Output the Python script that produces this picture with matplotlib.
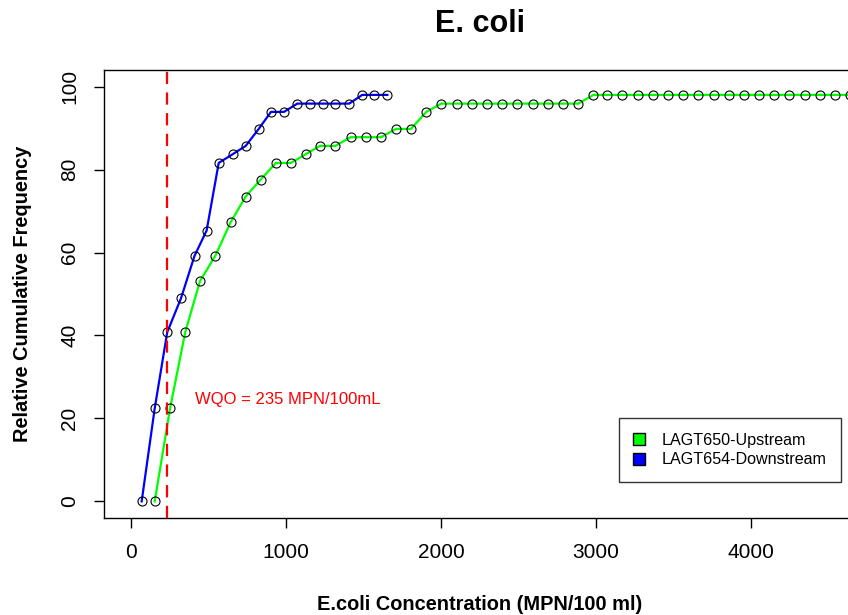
import matplotlib
matplotlib.use("Agg")
import matplotlib.pyplot as plt
from matplotlib.patches import Patch

plt.rcParams['font.family'] = ['Liberation Sans', 'DejaVu Sans']

# LAGT650 - Upstream
x_up = [153, 252, 350, 445, 544, 643, 740, 837, 935, 1032,
        1127, 1219, 1318, 1417, 1516, 1613, 1710, 1806, 1905, 2002,
        2101, 2198, 2297, 2395, 2492, 2592, 2688, 2787, 2886, 2983,
        3073, 3170, 3269, 3368, 3465, 3561, 3660, 3759, 3856, 3955,
        4052, 4150, 4247, 4346, 4443, 4544, 4641, 4739]
y_up = [0, 22.4, 40.8, 53.1, 59.2, 67.3, 73.5, 77.6, 81.6, 81.6,
        83.7, 85.7, 85.7, 87.8, 87.8, 87.8, 89.8, 89.8, 93.9, 95.9,
        95.9, 95.9, 95.9, 95.9, 95.9, 95.9, 95.9, 95.9, 95.9, 98.0,
        98.0, 98.0, 98.0, 98.0, 98.0, 98.0, 98.0, 98.0, 98.0, 98.0,
        98.0, 98.0, 98.0, 98.0, 98.0, 98.0, 98.0, 98.0]

# LAGT654 - Downstream
x_down = [69, 153, 234, 323, 410, 488, 566, 656, 740, 824,
          903, 987, 1073, 1155, 1237, 1318, 1408, 1492, 1570, 1654]
y_down = [0, 22.4, 40.8, 49.0, 59.2, 65.3, 81.6, 83.7, 85.7, 89.8,
          93.9, 93.9, 95.9, 95.9, 95.9, 95.9, 95.9, 98.0, 98.0, 98.0]

wqo = 235

fig = plt.figure(figsize=(8.48, 6.15), dpi=100)
ax = fig.add_axes([104/848, 1 - 518/615, 752/848, 448/615])

ax.plot(x_up, y_up, color='#00ff00', lw=1.6, zorder=2)
ax.plot(x_up, y_up, 'o', mfc='none', mec='black', ms=6.5, mew=0.8, zorder=3)
ax.plot(x_down, y_down, color='#0000ff', lw=1.6, zorder=2)
ax.plot(x_down, y_down, 'o', mfc='none', mec='black', ms=6.5, mew=0.8, zorder=3)

ax.axvline(wqo, color='#ff0000', ls=(0, (5.5, 3.8)), lw=1.6, zorder=4)
ax.text(410, 24.6, "WQO = 235 MPN/100mL", color='#ff0000', fontsize=12,
        ha='left', va='center')

ax.set_xlim(-174, 4677)
ax.set_ylim(-4, 104)
ax.set_xticks([0, 1000, 2000, 3000, 4000])
ax.set_yticks([0, 20, 40, 60, 80, 100])
ax.tick_params(labelsize=15, length=7, width=1, direction='out', pad=11)
plt.setp(ax.get_yticklabels(), rotation=90, va='center')
for s in ax.spines.values():
    s.set_linewidth(1)

ax.set_title("E. coli", fontsize=22, fontweight='bold', pad=27)
ax.set_xlabel("E.coli Concentration (MPN/100 ml)", fontsize=14.4,
              fontweight='bold', labelpad=24)
ax.set_ylabel("Relative Cumulative Frequency", fontsize=14.4,
              fontweight='bold', labelpad=20)

handles = [Patch(facecolor='#00ff00', edgecolor='black', label='LAGT650-Upstream'),
           Patch(facecolor='#0000ff', edgecolor='black', label='LAGT654-Downstream')]
leg = ax.legend(handles=handles, loc='upper right', bbox_to_anchor=(0.980, 0.223),
                fontsize=11.6, frameon=True, fancybox=False, handlelength=0.75,
                handleheight=0.75, handletextpad=1.0, borderpad=0.9, labelspacing=0.3,
                borderaxespad=0)
leg.get_frame().set_edgecolor('black')
leg.get_frame().set_linewidth(1)

fig.savefig("out.png", dpi=100)
